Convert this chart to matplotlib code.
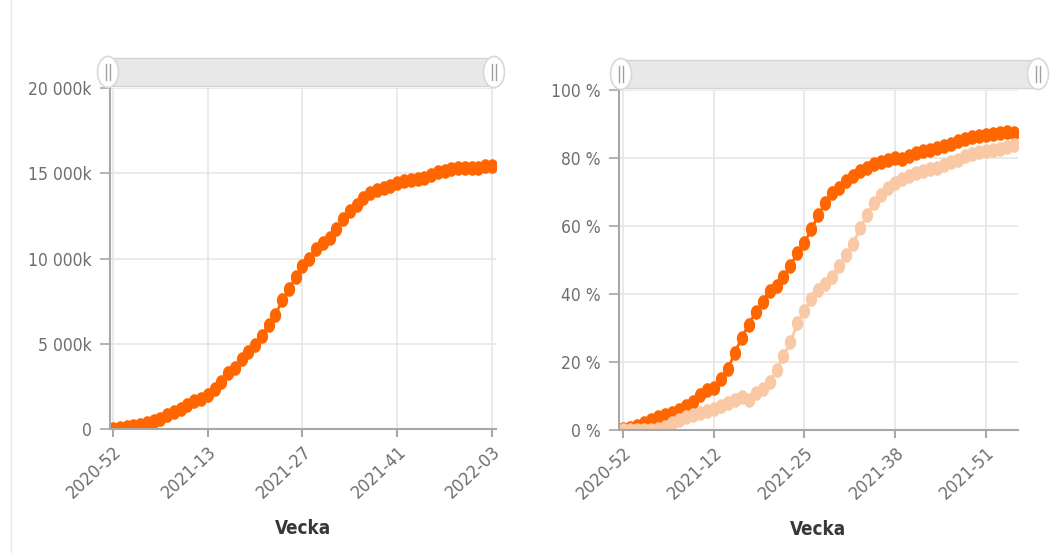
import numpy as np
import matplotlib
matplotlib.use("Agg")
import matplotlib.pyplot as plt
from matplotlib.path import Path
from matplotlib.patches import Ellipse, Rectangle
from matplotlib.lines import Line2D
from matplotlib.ticker import FuncFormatter

plt.rcParams['font.family'] = ['DejaVu Sans']
plt.rcParams['font.stretch'] = 'condensed'

# weeks 2020-52 .. 2022-03
weeks = (["2020-52", "2020-53"] + ["2021-%02d" % w for w in range(1, 53)]
         + ["2022-%02d" % w for w in range(1, 4)])

# left panel: cumulative count (thousands)
antal = [0, 40, 110, 160, 220, 350, 470, 585, 800, 975,
         1190, 1420, 1620, 1775, 1970, 2360, 2750, 3290, 3570, 4110,
         4500, 4950, 5480, 6120, 6690, 7560, 8200, 8930, 9570, 9960,
         10540, 10930, 11230, 11710, 12330, 12800, 13120, 13550, 13830, 13990,
         14120, 14280, 14420, 14550, 14610, 14670, 14750, 14900, 15060, 15150,
         15230, 15290, 15290, 15300, 15330, 15410, 15400]

# right panel: share (%), two series
andel_1 = [0.2, 0.6, 1.2, 2.1, 2.9, 3.7, 4.3, 5.1, 6.0, 7.0,
           8.3, 10.2, 11.7, 12.5, 15.1, 17.8, 22.6, 27.1, 31.0, 34.6,
           37.6, 41.0, 42.4, 44.9, 48.3, 52.2, 55.1, 59.0, 63.3, 66.8,
           69.6, 71.1, 73.1, 74.6, 76.2, 77.2, 78.2, 78.9, 79.5, 79.9,
           79.7, 80.5, 81.5, 82.2, 82.5, 82.9, 83.5, 84.2, 84.9, 85.6,
           86.3, 86.6, 86.8, 87.0, 87.3, 87.6, 87.3]
andel_2 = [0.0, 0.0, 0.0, 0.0, 0.1, 0.4, 1.0, 2.1, 2.9, 3.9,
           4.4, 4.9, 5.7, 6.3, 7.0, 7.8, 8.8, 9.6, 8.8, 10.9,
           12.2, 14.1, 17.6, 21.7, 25.9, 31.4, 35.1, 38.5, 41.2, 42.9,
           45.1, 48.3, 51.4, 54.8, 59.5, 63.3, 66.7, 69.1, 71.1, 72.6,
           73.8, 74.6, 75.5, 76.2, 76.7, 77.2, 77.9, 78.7, 79.5, 80.5,
           81.2, 81.7, 82.2, 82.5, 82.7, 83.2, 83.7]

left_ticks = [0, 14, 28, 42, 56]
right_ticks = [0, 13, 26, 39, 52]

ORANGE = "#ff6600"
PEACH = "#f8c9a4"
GRID = "#e6e6e6"
AXIS = "#a8a8a8"
TXT = "#6e6e6e"

# slightly tall ellipse marker
t = np.linspace(0, 2 * np.pi, 40)
ell = Path(np.column_stack([0.75 * np.cos(t), np.sin(t)]), closed=True)

W, H = 1064, 553
fig = plt.figure(figsize=(W / 100, H / 100), dpi=100)


def fax(x0, y0, x1, y1):
    return [x0 / W, 1 - y1 / H, (x1 - x0) / W, (y1 - y0) / H]


def style(ax, ticks):
    x = np.arange(len(weeks))
    ax.set_xticks(ticks)
    ax.set_xticklabels([weeks[i] for i in ticks], rotation=43, ha="right",
                       rotation_mode="anchor", fontsize=13, color=TXT)
    ax.grid(True, color=GRID, lw=1.2)
    ax.set_axisbelow(True)
    for s in ["top", "right"]:
        ax.spines[s].set_visible(False)
    for s in ["left", "bottom"]:
        ax.spines[s].set_color(AXIS)
        ax.spines[s].set_linewidth(1.5)
    ax.tick_params(axis="x", length=6, width=1.5, color=AXIS, pad=4)
    ax.tick_params(axis="y", length=7, width=1.2, color=AXIS, labelsize=12.5,
                   labelcolor=TXT, pad=6)
    ax.set_xlabel("Vecka", fontsize=13.5, fontweight="bold", color="#383838",
                  labelpad=12)
    return x


# left chart
ax1 = fig.add_axes(fax(110, 88, 496, 429))
x = style(ax1, left_ticks)
ax1.plot(x, antal, color=ORANGE, lw=2, marker=ell, ms=9.5, mec=ORANGE)
ax1.set_xlim(-0.45, 56.6)
ax1.set_ylim(0, 20000)
ax1.set_yticks([0, 5000, 10000, 15000, 20000])
ax1.yaxis.set_major_formatter(FuncFormatter(
    lambda v, p: "0" if v == 0 else "{:,.0f}k".format(v).replace(",", " ")))

# right chart
ax2 = fig.add_axes(fax(619, 90, 1018, 430))
x = style(ax2, right_ticks)
ax2.plot(x, andel_1, color=ORANGE, lw=2, marker=ell, ms=9.5, mec=ORANGE)
ax2.plot(x, andel_2, color=PEACH, lw=2, marker=ell, ms=9.5, mec=PEACH)
ax2.set_xlim(-0.57, 56.6)
ax2.set_ylim(0, 100)
ax2.set_yticks([0, 20, 40, 60, 80, 100])
ax2.yaxis.set_major_formatter(FuncFormatter(lambda v, p: "%d %%" % v))


# zoom sliders on top of each chart
def slider(x0, x1, y0, y1):
    fig.patches.append(Rectangle((x0 / W, 1 - y1 / H), (x1 - x0) / W,
                                 (y1 - y0) / H, transform=fig.transFigure,
                                 facecolor="#e8e8e8", edgecolor="#d4d4d4",
                                 lw=1, zorder=5))
    yc = 1 - (y0 + y1) / 2 / H
    for xc in (x0, x1):
        fig.patches.append(Ellipse((xc / W, yc), 21 / W, 31 / H,
                                   transform=fig.transFigure, facecolor="white",
                                   edgecolor="#d8d8d8", lw=1.2, zorder=6))
        for dx in (-2, 2):
            fig.lines.append(Line2D([(xc + dx) / W] * 2,
                                    [yc - 8 / H, yc + 8 / H],
                                    transform=fig.transFigure,
                                    color="#a0a0a0", lw=1, zorder=7))


slider(108, 494, 58, 86)
slider(621, 1038, 60, 88)

# page border on the left
fig.lines.append(Line2D([11 / W] * 2, [0, 1], transform=fig.transFigure,
                        color="#e8e8e8", lw=1))

fig.savefig("out.png", dpi=100)
